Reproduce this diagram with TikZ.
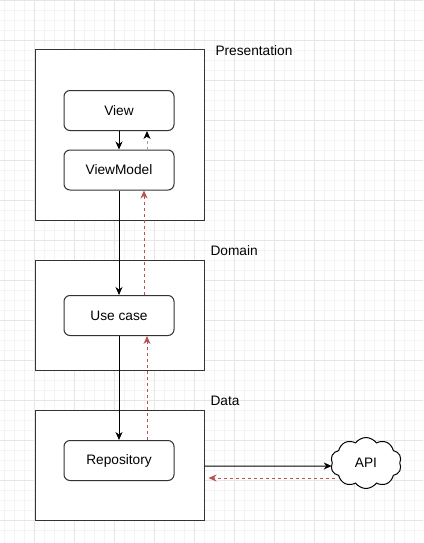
\documentclass[tikz,border=0pt]{standalone}
\usepackage{fontspec}
\setmainfont{Liberation Sans}
\usepackage{xcolor}
\usetikzlibrary{positioning, shapes.symbols, arrows.meta}
\definecolor{gridminor}{HTML}{F4F4F4}
\definecolor{gridmajor}{HTML}{E6E6E6}
\definecolor{backred}{HTML}{B85450}
\definecolor{backgray}{HTML}{A0A0A0}

\begin{document}
\begin{tikzpicture}[x=1pt,y=-1pt,line width=1pt,font=\fontsize{13.7}{16}\selectfont]
	\tikzstyle{layer}=[draw=black!80,fill=white,minimum width=169pt,minimum height=110pt,inner sep=0pt]
	\tikzstyle{comp}=[draw=black!80,fill=white,rounded corners=6pt,minimum width=110pt,minimum height=40pt,inner sep=0pt]
	\tikzstyle{title}=[anchor=west,inner sep=0pt]
	\tikzstyle{call}=[draw=black,-{Stealth[length=8pt,width=7pt,inset=2.5pt]}]
	\tikzstyle{back}=[draw=backred,dash pattern=on 3pt off 3pt,-{Stealth[length=8pt,width=7pt,inset=2.5pt]}]
	\useasboundingbox (0,0) rectangle (423,543);
	\fill[white] (0,0) rectangle (423,543);
	% grid
	\foreach \x in {4,14,...,414} \draw[gridminor] (\x,0) -- (\x,543);
	\foreach \y in {0.7,10.7,...,540} \draw[gridminor] (0,\y) -- (423,\y);
	\foreach \x in {34,74,...,414} \draw[gridmajor] (\x,0) -- (\x,543);
	\foreach \y in {0.7,40.7,...,540} \draw[gridmajor] (0,\y) -- (423,\y);
	% layers
	\node[layer,minimum height=170pt](pres) at (119.5,135){};
	\node[layer](dom) at (119.5,315){};
	\node[layer](dat) at (119.5,465){};
	\node[title](presl) at (215,51){Presentation};
	\node[title](doml) at (210,251){Domain};
	\node[title](datl) at (210,401){Data};
	% components
	\node[comp](view) at (119,110.5){View};
	\node[comp](vm) at (119,170){ViewModel};
	\node[comp](uc) at (119,315.5){Use case};
	\node[comp](repo) at (119,460.5){Repository};
	\node[cloud,draw=black,fill=white,cloud puffs=10,cloud puff arc=110,aspect=1.4,minimum width=71pt,minimum height=51pt,inner sep=0pt](api) at (366,463){API};
	\coordinate (apiret) at (335,478);
	\path
		(view) edge[call] (vm)
		(vm) edge[call] (uc)
		(uc) edge[call] (repo)
		([yshift=-1pt]dat.east) edge[call] ([yshift=-3pt]api.west);
	\path
		([xshift=28pt]vm.north) edge[back,draw=backgray,-{Stealth[length=8pt,width=7pt,inset=2.5pt,color=black]}] ([xshift=28pt]view.south)
		([xshift=25pt]uc.north) edge[back] ([xshift=25pt]vm.south)
		([xshift=28pt]repo.north) edge[back] ([xshift=28pt]uc.south)
		(apiret) edge[back] ([xshift=4pt,yshift=-13pt]dat.east);
\end{tikzpicture}
\end{document}
